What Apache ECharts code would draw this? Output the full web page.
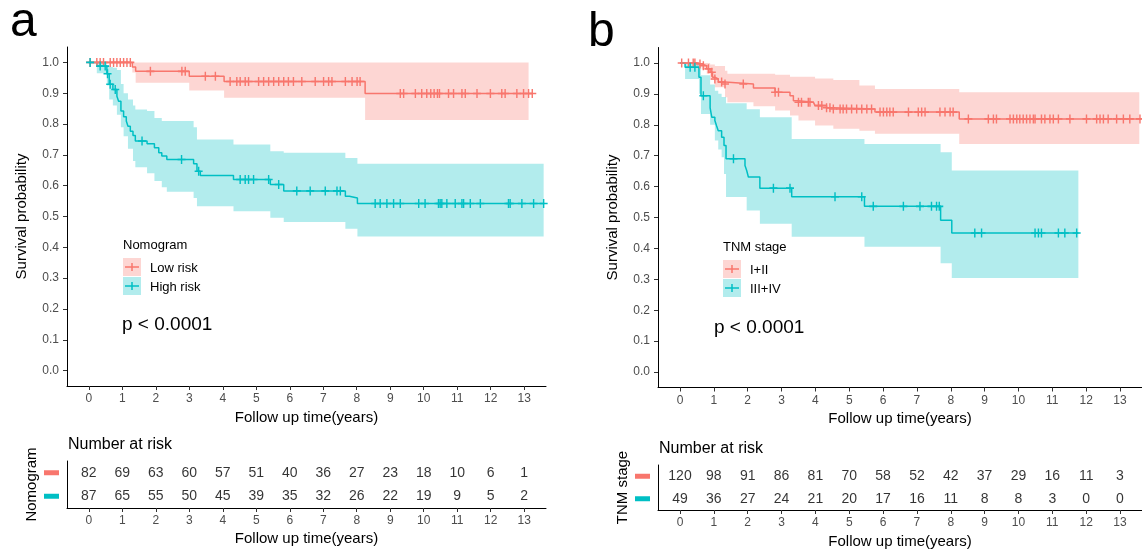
<!DOCTYPE html>
<html>
<head>
  <meta charset="utf-8">
  <script src="https://cdn.jsdelivr.net/npm/echarts@6.0.0/dist/echarts.min.js"></script>
</head>
<body style="margin: 0; background: #fff">
  <div id="container" style="width: 1142px; height: 550px"></div>
  <script>
    // colours (ggplot defaults)
    var RED = '#F8766D', TEAL = '#00BFC4';
    var RED_FILL = 'rgba(248,118,109,0.3)', TEAL_FILL = 'rgba(0,191,196,0.3)';
    var FONT = 'Liberation Sans, Arial, sans-serif';

    var xTicks = [0, 1, 2, 3, 4, 5, 6, 7, 8, 9, 10, 11, 12, 13];
    var yTicks = [0, 0.1, 0.2, 0.3, 0.4, 0.5, 0.6, 0.7, 0.8, 0.9, 1.0];
    var riskTimes = [0, 1, 2, 3, 4, 5, 6, 7, 8, 9, 10, 11, 12, 13];

    // ---- panel a : Nomogram ----
    var aLowTime = [0, 1.30, 1.40, 3.00, 4.04, 8.25, 13.24];
    var aLowSurv = [1.0, 0.985, 0.971, 0.955, 0.938, 0.899, 0.899];
    var aLowCens = [0.04, 0.24, 0.34, 0.44, 0.64, 0.74, 0.84, 0.94, 1.04, 1.14, 1.24, 1.84, 2.78, 2.88, 3.48, 3.78,
      4.22, 4.42, 4.52, 4.67, 4.77, 5.07, 5.22, 5.37, 5.52, 5.67, 5.82, 5.96, 6.11, 6.36, 6.76, 7.01, 7.16, 7.26,
      7.66, 7.86, 8.01, 8.10, 9.30, 9.40, 9.75, 9.94, 10.09, 10.21, 10.31, 10.41, 10.47, 10.74, 10.89, 11.14,
      11.24, 11.59, 11.99, 12.33, 12.43, 12.78, 12.98, 13.13, 13.24];
    var aLowBandTime = [1.30, 1.40, 3.00, 4.04, 8.25, 13.13];
    var aLowBandLo = [0.967, 0.934, 0.909, 0.885, 0.813];
    var aLowBandHi = [1.0, 1.0, 1.0, 1.0, 1.0];

    var aHighTime = [0, 0.24, 0.54, 0.61, 0.72, 0.84, 0.89, 0.96, 1.04, 1.12, 1.17, 1.24, 1.32, 1.39, 1.74, 1.96,
      2.09, 2.18, 2.33, 3.13, 3.23, 3.33, 4.32, 5.42, 5.82, 7.66, 7.78, 8.02, 13.6];
    var aHighSurv = [1.0, 0.988, 0.963, 0.929, 0.912, 0.890, 0.874, 0.842, 0.824, 0.810, 0.793, 0.777, 0.763, 0.745,
      0.736, 0.723, 0.707, 0.696, 0.685, 0.671, 0.647, 0.633, 0.620, 0.604, 0.583, 0.566, 0.560, 0.542, 0.542];
    var aHighCens = [0.04, 0.34, 0.49, 0.56, 0.64, 0.79, 1.59, 2.77, 3.28, 4.52, 4.67, 4.77, 4.92, 5.37, 5.67, 6.21,
      6.61, 7.06, 7.41, 7.51, 8.55, 8.70, 8.90, 9.10, 9.30, 9.85, 10.04, 10.44, 10.49, 10.54, 10.69, 10.94, 11.14,
      11.19, 11.39, 11.69, 12.53, 12.58, 12.93, 13.28, 13.58];
    var aHighBandTime = [0.24, 0.54, 0.61, 0.72, 0.84, 0.96, 1.04, 1.17, 1.32, 1.39, 1.74, 1.96, 2.18, 2.33, 3.13,
      3.23, 4.32, 5.42, 5.82, 7.66, 8.02, 13.58];
    var aHighBandLo = [0.965, 0.925, 0.88, 0.86, 0.83, 0.79, 0.76, 0.72, 0.68, 0.66, 0.64, 0.615, 0.595, 0.58, 0.56,
      0.533, 0.517, 0.496, 0.482, 0.46, 0.435];
    var aHighBandHi = [1.0, 0.99, 0.985, 0.983, 0.975, 0.93, 0.90, 0.88, 0.86, 0.847, 0.842, 0.82, 0.81, 0.81, 0.79,
      0.75, 0.734, 0.712, 0.707, 0.69, 0.671];

    var aRiskLow = [82, 69, 63, 60, 57, 51, 40, 36, 27, 23, 18, 10, 6, 1];
    var aRiskHigh = [87, 65, 55, 50, 45, 39, 35, 32, 26, 22, 19, 9, 5, 2];

    // ---- panel b : TNM stage ----
    var bLowTime = [0, 0.49, 0.64, 0.79, 0.89, 0.96, 1.03, 1.13, 1.33, 2.17, 2.81, 3.25, 3.35, 3.50, 3.94, 3.99,
      4.33, 4.53, 5.76, 8.25, 13.64];
    var bLowSurv = [1.0, 0.997, 0.991, 0.981, 0.970, 0.954, 0.948, 0.938, 0.932, 0.919, 0.905, 0.894, 0.878, 0.873,
      0.868, 0.862, 0.855, 0.851, 0.841, 0.819, 0.819];
    var bLowCens = [0.05, 0.25, 0.39, 0.44, 0.59, 0.69, 0.84, 0.94, 1.03, 1.23, 1.33, 1.87, 2.81, 2.91, 3.50, 3.59,
      3.79, 3.84, 4.09, 4.19, 4.33, 4.43, 4.53, 4.73, 4.82, 4.92, 5.07, 5.22, 5.37, 5.52, 5.66, 5.91, 6.01, 6.11,
      6.20, 6.30, 6.75, 7.04, 7.14, 7.24, 7.68, 7.83, 7.98, 8.07, 8.52, 9.11, 9.26, 9.35, 9.75, 9.85, 9.95, 10.04,
      10.14, 10.24, 10.34, 10.44, 10.49, 10.68, 10.78, 10.93, 11.03, 11.18, 11.52, 12.01, 12.31, 12.41, 12.51,
      12.65, 12.90, 13.10, 13.29, 13.59];
    var bLowBandTime = [0.49, 0.64, 0.79, 0.89, 1.03, 1.33, 1.40, 2.17, 2.81, 3.25, 3.50, 3.99, 4.53, 5.30, 5.76,
      8.25, 13.57];
    var bLowBandLo = [0.99, 0.98, 0.965, 0.945, 0.921, 0.889, 0.873, 0.86, 0.846, 0.830, 0.814, 0.798, 0.787, 0.781,
      0.771, 0.738];
    var bLowBandHi = [1.0, 1.0, 1.0, 0.995, 0.99, 0.975, 0.965, 0.965, 0.962, 0.955, 0.955, 0.95, 0.945, 0.927,
      0.916, 0.905];

    var bHighTime = [0, 0.15, 0.56, 0.62, 0.89, 0.94, 1.03, 1.08, 1.13, 1.23, 1.30, 1.36, 1.92, 1.97, 2.02, 2.36,
      3.30, 5.45, 7.70, 8.03, 11.77];
    var bHighSurv = [1.0, 0.986, 0.954, 0.894, 0.855, 0.824, 0.814, 0.797, 0.781, 0.760, 0.733, 0.690, 0.668, 0.652,
      0.631, 0.595, 0.567, 0.536, 0.491, 0.450, 0.450];
    var bHighCens = [0.30, 0.44, 0.69, 1.58, 2.76, 3.25, 4.58, 5.37, 5.71, 6.60, 7.09, 7.43, 7.58, 7.66, 8.71, 8.91,
      10.49, 10.59, 10.68, 11.18, 11.37, 11.72];
    var bHighBandTime = [0.15, 0.56, 0.62, 0.89, 1.03, 1.13, 1.23, 1.30, 1.36, 1.97, 2.36, 3.30, 5.45, 7.70, 8.03,
      11.77];
    var bHighBandLo = [0.948, 0.90, 0.835, 0.80, 0.749, 0.72, 0.695, 0.641, 0.566, 0.523, 0.48, 0.438, 0.405, 0.352,
      0.304];
    var bHighBandHi = [1.0, 0.99, 0.96, 0.93, 0.91, 0.90, 0.89, 0.89, 0.87, 0.85, 0.824, 0.754, 0.738, 0.711, 0.652];

    var bRiskLow = [120, 98, 91, 86, 81, 70, 58, 52, 42, 37, 29, 16, 11, 3];
    var bRiskHigh = [49, 36, 27, 24, 21, 20, 17, 16, 11, 8, 8, 3, 0, 0];

    var PLUS = 'path://M3.7,0H5.3V3.7H9V5.3H5.3V9H3.7V5.3H0V3.7H3.7Z';

    // survival value of a step curve at time t (censor marks sit on the curve)
    function stepAt(times, surv, t) {
      var s = surv[0];
      for (var i = 0; i < times.length; i++) {
        if (times[i] <= t + 1e-9) s = surv[i];
      }
      return s;
    }

    function kmSeries(g, times, surv, cens, color) {
      return [{
        type: 'line', xAxisIndex: g, yAxisIndex: g, step: 'end', symbol: 'none', silent: true, z: 3,
        data: times.map(function (t, i) { return [t, surv[i]]; }),
        lineStyle: { color: color, width: 1.5 }
      }, {
        type: 'scatter', xAxisIndex: g, yAxisIndex: g, silent: true, z: 4,
        symbol: PLUS, symbolSize: [8, 9],
        data: cens.map(function (t) { return [t, stepAt(times, surv, t)]; }),
        itemStyle: { color: color, opacity: 1 }
      }];
    }

    function bandSeries(g, times, lo, hi, fill) {
      var rows = lo.map(function (l, i) { return [times[i], times[i + 1], l, hi[i]]; });
      return {
        type: 'custom', xAxisIndex: g, yAxisIndex: g, silent: true, z: 1,
        data: rows, encode: { x: [0, 1], y: [2, 3] },
        renderItem: function (params, api) {
          if (params.dataIndex !== 0) return null;
          var top = [], bot = [];
          rows.forEach(function (r) {
            top.push(api.coord([r[0], r[3]]), api.coord([r[1], r[3]]));
            bot.push(api.coord([r[0], r[2]]), api.coord([r[1], r[2]]));
          });
          return { type: 'polygon', shape: { points: top.concat(bot.reverse()) }, style: { fill: fill } };
        }
      };
    }

    function riskSeries(g, low, high) {
      var data = [];
      riskTimes.forEach(function (t, i) {
        data.push([t, 0, low[i]]);
        data.push([t, 1, high[i]]);
      });
      return {
        type: 'scatter', xAxisIndex: g, yAxisIndex: g, silent: true, data: data,
        symbolSize: 1, itemStyle: { color: 'rgba(0,0,0,0)' },
        label: {
          show: true, position: 'inside', fontSize: 14, color: '#000', fontFamily: FONT,
          formatter: function (p) { return p.value[2]; }
        }
      };
    }

    function xAxisOf(g, gap) {
      return {
        gridIndex: g, type: 'value', min: -0.65, max: 13.65,
        axisLine: { show: true, onZero: false, lineStyle: { color: '#000', width: 1 } },
        axisTick: { show: true, length: 4, customValues: xTicks, lineStyle: { color: '#333' } },
        axisLabel: { customValues: xTicks, color: '#4D4D4D', fontSize: 12, margin: 7, fontFamily: FONT },
        splitLine: { show: false },
        name: 'Follow up time(years)', nameLocation: 'middle', nameGap: gap,
        nameTextStyle: { fontSize: 15, color: '#000', fontFamily: FONT }
      };
    }

    function kmYAxis(g) {
      return {
        gridIndex: g, type: 'value', min: -0.05, max: 1.05,
        axisLine: { show: true, onZero: false, lineStyle: { color: '#000', width: 1 } },
        axisTick: { show: true, length: 4, customValues: yTicks, lineStyle: { color: '#333' } },
        axisLabel: {
          customValues: yTicks, color: '#4D4D4D', fontSize: 12, margin: 8, fontFamily: FONT,
          formatter: function (v) { return v.toFixed(1); }
        },
        splitLine: { show: false },
        name: 'Survival probability', nameLocation: 'middle', nameGap: 38,
        nameTextStyle: { fontSize: 15, color: '#000', fontFamily: FONT }
      };
    }

    function riskYAxis(g, title) {
      return {
        gridIndex: g, type: 'category', data: ['low', 'high'], inverse: true,
        axisLine: { show: true, onZero: false, lineStyle: { color: '#000', width: 1 } },
        axisTick: { show: false },
        axisLabel: {
          margin: 8,
          formatter: function (v, i) { return i === 0 ? '{r| }' : '{c| }'; },
          rich: {
            r: { width: 15, height: 5, backgroundColor: RED, fontSize: 1 },
            c: { width: 15, height: 5, backgroundColor: TEAL, fontSize: 1 }
          }
        },
        name: title, nameLocation: 'middle', nameGap: 28,
        nameTextStyle: { fontSize: 15, color: '#000', fontFamily: FONT }
      };
    }

    function legendGraphic(x, y, title, labels) {
      var items = [{
        type: 'text', x: x, y: y,
        style: { text: title, fontSize: 13, fill: '#000', fontFamily: FONT, verticalAlign: 'middle' }
      }];
      [[RED, RED_FILL], [TEAL, TEAL_FILL]].forEach(function (c, i) {
        var ky = y + 13 + i * 19;
        items.push({ type: 'rect', shape: { x: x, y: ky, width: 18, height: 18 }, style: { fill: c[1] } });
        items.push({ type: 'line', shape: { x1: x + 2, y1: ky + 9, x2: x + 16, y2: ky + 9 }, style: { stroke: c[0], lineWidth: 1.5 } });
        items.push({ type: 'line', shape: { x1: x + 9, y1: ky + 5, x2: x + 9, y2: ky + 13 }, style: { stroke: c[0], lineWidth: 1.5 } });
        items.push({
          type: 'text', x: x + 27, y: ky + 10,
          style: { text: labels[i], fontSize: 13, fill: '#000', fontFamily: FONT, verticalAlign: 'middle' }
        });
      });
      return items;
    }

    function txt(x, y, s, size) {
      return { type: 'text', x: x, y: y, style: { text: s, fontSize: size, fill: '#000', fontFamily: FONT, verticalAlign: 'middle' } };
    }

    var dom = document.getElementById('container');
    var myChart = echarts.init(dom, null, { renderer: 'canvas' });

    var option = {
      animation: false,
      backgroundColor: '#fff',
      grid: [
        { left: 67, top: 47, width: 479, height: 339 },
        { left: 67, top: 461, width: 479, height: 47 },
        { left: 658, top: 47.5, width: 484, height: 340 },
        { left: 658, top: 465, width: 484, height: 46 }
      ],
      xAxis: [xAxisOf(0, 19), xAxisOf(1, 23), xAxisOf(2, 19), xAxisOf(3, 24)],
      yAxis: [kmYAxis(0), riskYAxis(1, 'Nomogram'), kmYAxis(2), riskYAxis(3, 'TNM stage')],
      series: [].concat(
        bandSeries(0, aLowBandTime, aLowBandLo, aLowBandHi, RED_FILL),
        bandSeries(0, aHighBandTime, aHighBandLo, aHighBandHi, TEAL_FILL),
        kmSeries(0, aLowTime, aLowSurv, aLowCens, RED),
        kmSeries(0, aHighTime, aHighSurv, aHighCens, TEAL),
        riskSeries(1, aRiskLow, aRiskHigh),
        bandSeries(2, bLowBandTime, bLowBandLo, bLowBandHi, RED_FILL),
        bandSeries(2, bHighBandTime, bHighBandLo, bHighBandHi, TEAL_FILL),
        kmSeries(2, bLowTime, bLowSurv, bLowCens, RED),
        kmSeries(2, bHighTime, bHighSurv, bHighCens, TEAL),
        riskSeries(3, bRiskLow, bRiskHigh)
      ),
      graphic: [].concat(
        [txt(10, 23, 'a', 48), txt(588, 33, 'b', 48)],
        legendGraphic(123, 245, 'Nomogram', ['Low risk', 'High risk']),
        legendGraphic(723, 247, 'TNM stage', ['I+II', 'III+IV']),
        [txt(122, 325, 'p < 0.0001', 19), txt(714, 328, 'p < 0.0001', 19)],
        [txt(68, 445, 'Number at risk', 16), txt(659, 449, 'Number at risk', 16)]
      )
    };

    myChart.setOption(option);
    window.addEventListener('resize', myChart.resize);
  </script>
</body>
</html>
